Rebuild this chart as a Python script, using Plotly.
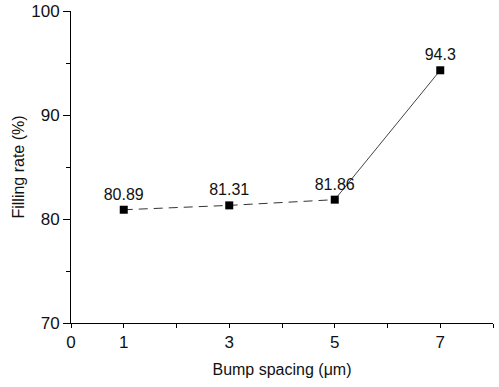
import plotly.graph_objects as go

spacing = [1, 3, 5, 7]
filling = [80.89, 81.31, 81.86, 94.3]
labels = ["80.89", "81.31", "81.86", "94.3"]
x_tick_vals = [0, 1, 2, 3, 4, 5, 6, 7, 8]
x_tick_text = ["0", "1", "", "3", "", "5", "", "7", ""]
y_tick_vals = [70, 80, 90, 100]

FONT = "Liberation Sans, Arial, sans-serif"

fig = go.Figure()
fig.add_trace(go.Scatter(x=spacing[:3], y=filling[:3], mode="lines",
                         line=dict(color="#333333", width=1, dash="9px,6px"),
                         showlegend=False, hoverinfo="skip"))
fig.add_trace(go.Scatter(x=spacing[2:], y=filling[2:], mode="lines",
                         line=dict(color="#444444", width=1),
                         showlegend=False, hoverinfo="skip"))
fig.add_trace(go.Scatter(x=spacing, y=filling, mode="markers+text",
                         marker=dict(symbol="square", size=8, color="black"),
                         text=labels, textposition="top center",
                         textfont=dict(family=FONT, size=16, color="#111111"),
                         showlegend=False))

fig.update_layout(
    width=499, height=387,
    margin=dict(l=71, r=6, t=11, b=64),
    paper_bgcolor="white", plot_bgcolor="white",
    font=dict(family=FONT, size=17, color="#111111"),
)
fig.update_xaxes(range=[0, 8], tickvals=x_tick_vals, ticktext=x_tick_text,
                 automargin=False,
                 showgrid=False, zeroline=False, showline=True, linecolor="black",
                 linewidth=1, ticks="outside", ticklen=4, tickcolor="black",
                 title=dict(text="Bump spacing (μm)", font=dict(size=16), standoff=12))
fig.update_yaxes(range=[70, 100], tickvals=y_tick_vals, automargin=False,
                 showgrid=False, zeroline=False, showline=True, linecolor="black",
                 linewidth=1, ticks="outside", ticklen=7, tickcolor="black",
                 minor=dict(tickvals=[75, 85, 95], ticks="outside", ticklen=4, tickcolor="black"),
                 title=dict(text="Filling rate (%)", font=dict(size=16), standoff=2))

fig.write_html("out.html", config={"displayModeBar": False},
               post_script="document.body.style.margin='0';")
